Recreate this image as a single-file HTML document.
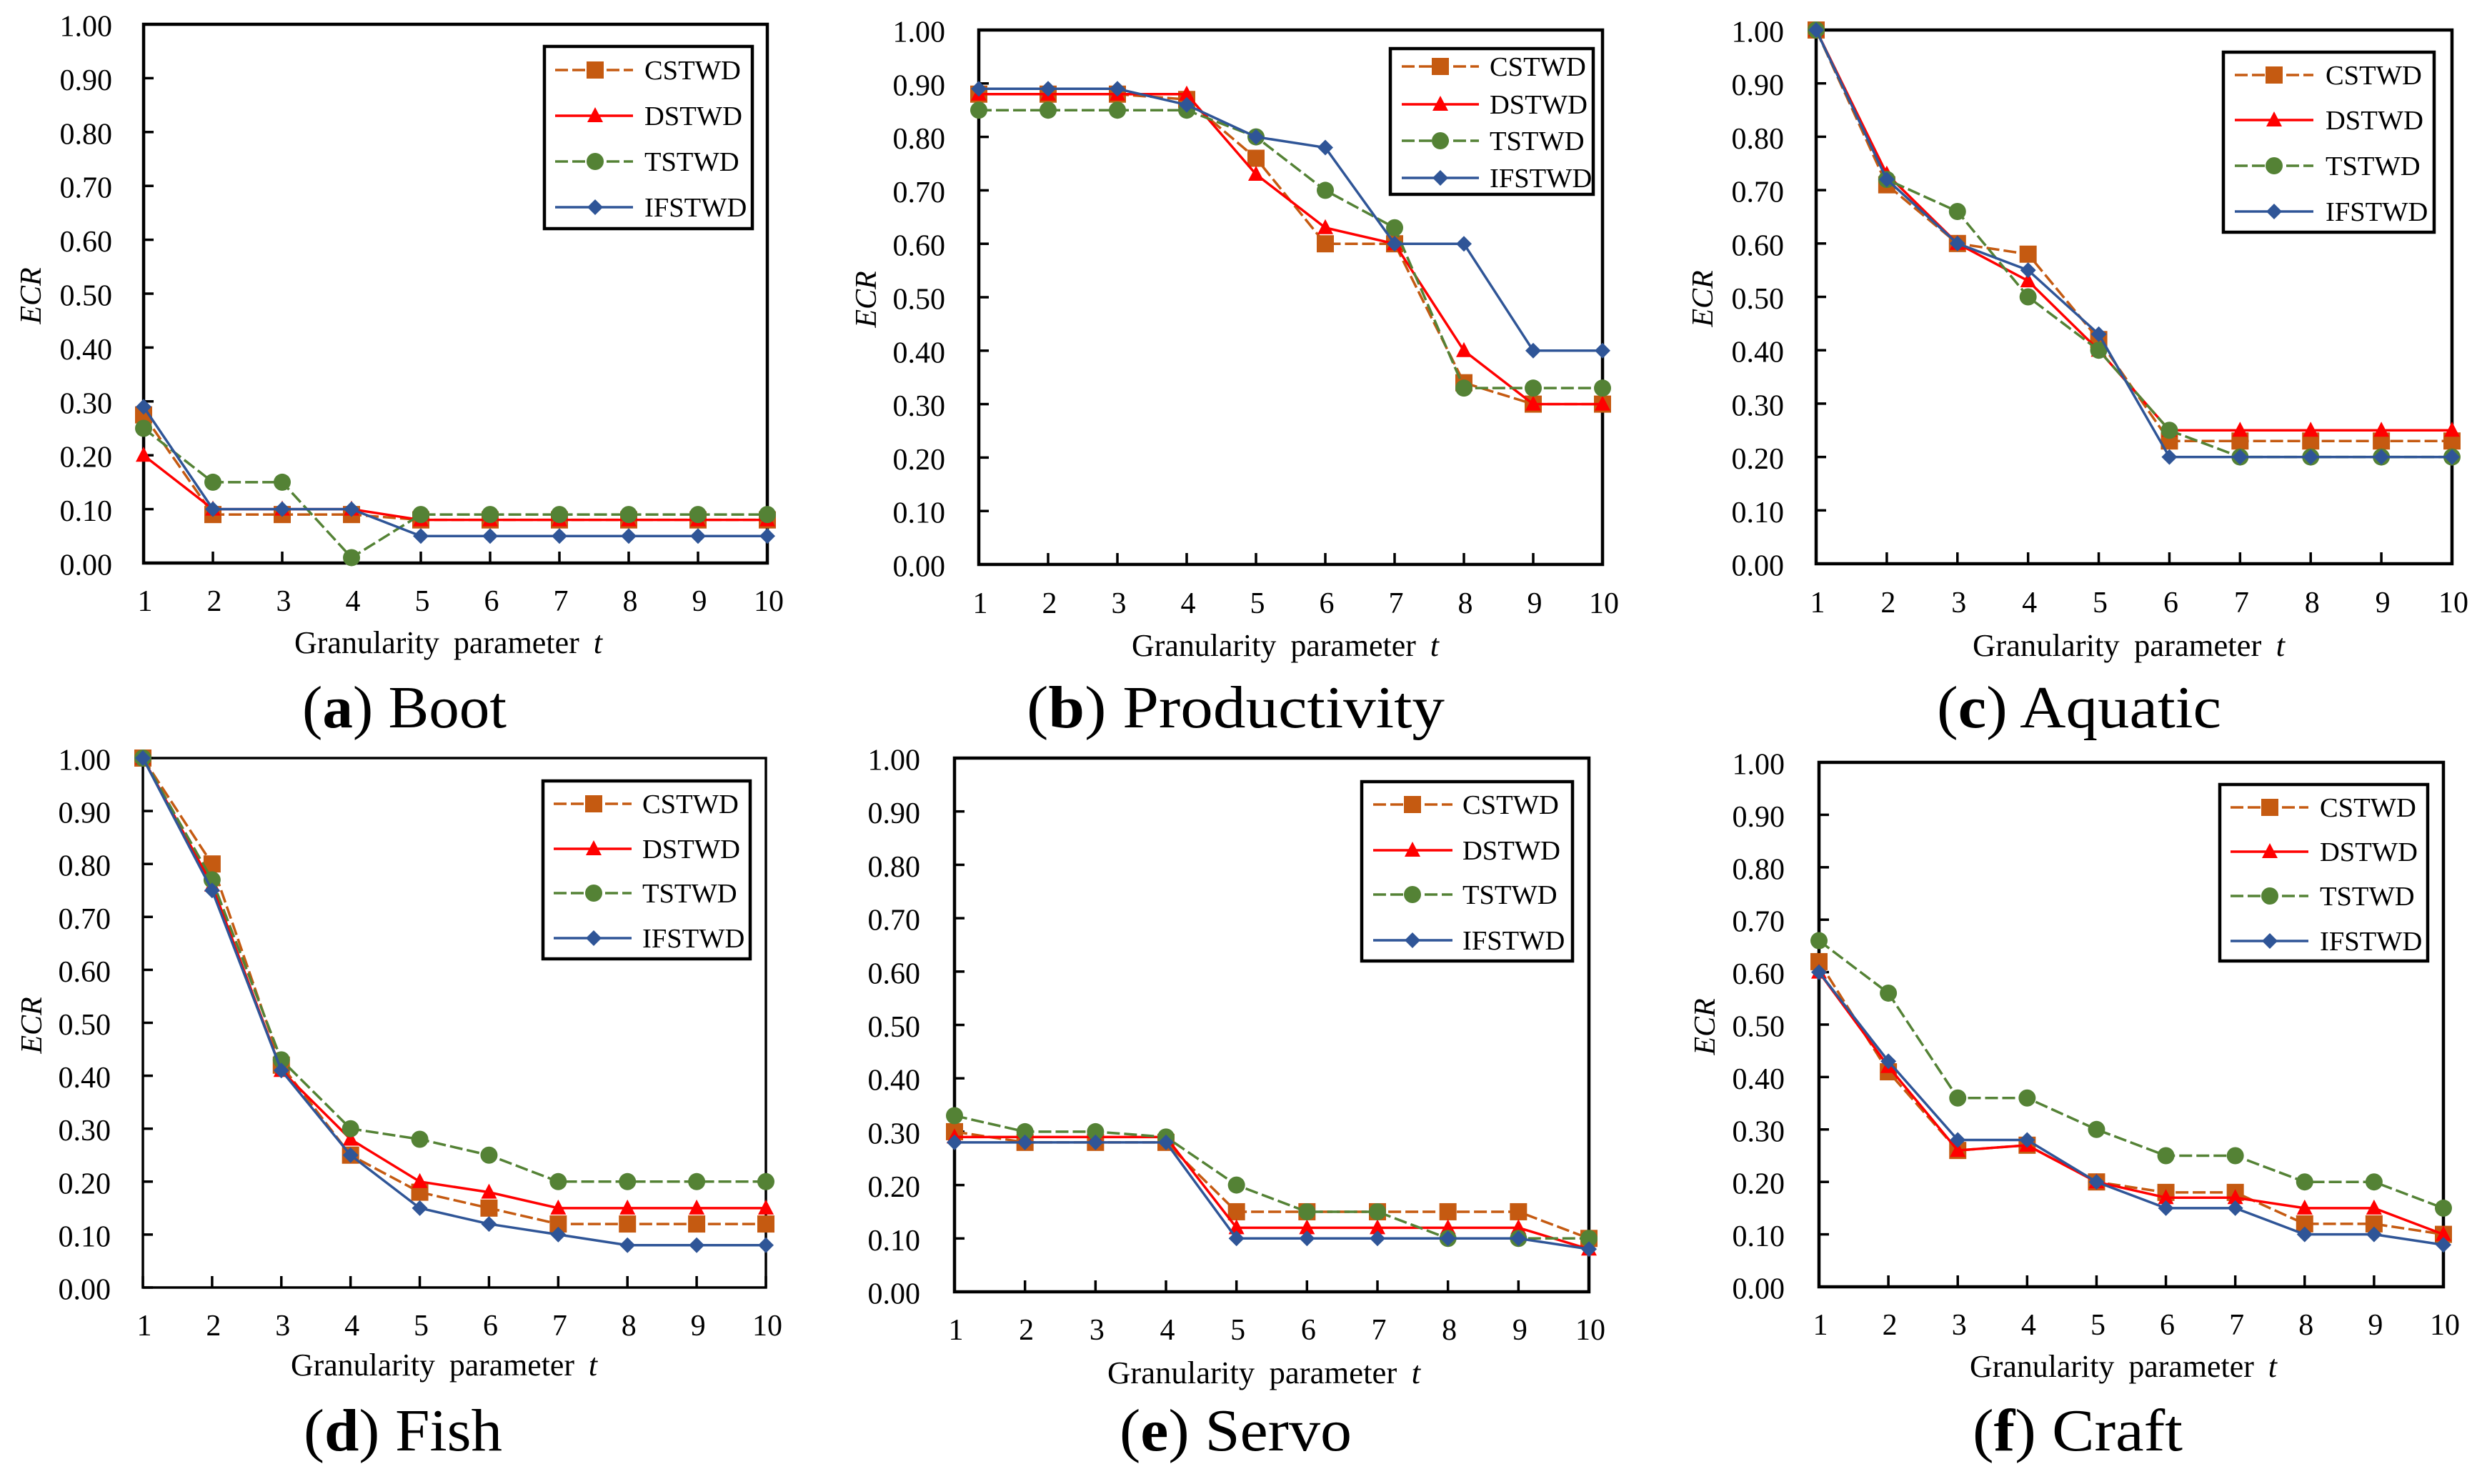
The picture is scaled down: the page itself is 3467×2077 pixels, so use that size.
<!DOCTYPE html>
<html lang="en">
<head>
<meta charset="utf-8">
<title>ECR versus granularity parameter t on six datasets</title>
<style>
html,body{margin:0;padding:0;background:#fff;}
svg{display:block;}
text{font-family:"Liberation Serif",serif;fill:#000;}
.tick{font-size:42px;}
.leg{font-size:38.5px;}
.xt{font-size:44px;word-spacing:9px;}
.yt{font-size:42px;font-style:italic;}
.cap{font-size:84px;}
.frame{fill:none;stroke:#000;stroke-width:4.5px;}
.lbox{fill:#fff;stroke:#000;stroke-width:4.5px;}
</style>
</head>
<body>
<svg id="figure" xmlns="http://www.w3.org/2000/svg" width="3467" height="2077" viewBox="0 0 3467 2077">
<rect x="0" y="0" width="3467" height="2077" fill="#fff"/>

<g id="panel-a">
<rect class="frame" x="201" y="34" width="873" height="754"/>
<text class="yt" transform="translate(57,414) rotate(-90)" text-anchor="middle">ECR</text>
<text class="xt" x="412" y="914" textLength="431" lengthAdjust="spacingAndGlyphs">Granularity parameter <tspan font-style="italic">t</tspan></text>
<text class="cap" x="423" y="1018" textLength="286" lengthAdjust="spacingAndGlyphs">(<tspan font-weight="bold">a</tspan>) Boot</text>
</g>

<g id="panel-b">
<rect class="frame" x="1370" y="42" width="873" height="748"/>
<text class="yt" transform="translate(1226,419) rotate(-90)" text-anchor="middle">ECR</text>
<text class="xt" x="1584" y="918" textLength="430" lengthAdjust="spacingAndGlyphs">Granularity parameter <tspan font-style="italic">t</tspan></text>
<text class="cap" x="1437" y="1018" textLength="585" lengthAdjust="spacingAndGlyphs">(<tspan font-weight="bold">b</tspan>) Productivity</text>
</g>

<g id="panel-c">
<rect class="frame" x="2542" y="42" width="890" height="747"/>
<text class="yt" transform="translate(2397,418) rotate(-90)" text-anchor="middle">ECR</text>
<text class="xt" x="2761" y="918" textLength="437" lengthAdjust="spacingAndGlyphs">Granularity parameter <tspan font-style="italic">t</tspan></text>
<text class="cap" x="2711" y="1018" textLength="398" lengthAdjust="spacingAndGlyphs">(<tspan font-weight="bold">c</tspan>) Aquatic</text>
</g>

<g id="panel-d">
<rect class="frame" style="stroke-width:3.5px" x="200" y="1061" width="872" height="741"/>
<text class="yt" transform="translate(58,1435) rotate(-90)" text-anchor="middle">ECR</text>
<text class="xt" x="407" y="1925" textLength="429" lengthAdjust="spacingAndGlyphs">Granularity parameter <tspan font-style="italic">t</tspan></text>
<text class="cap" x="425" y="2030" textLength="278" lengthAdjust="spacingAndGlyphs">(<tspan font-weight="bold">d</tspan>) Fish</text>
</g>

<g id="panel-e">
<rect class="frame" x="1336" y="1061" width="888" height="747"/>
<text class="xt" x="1550" y="1936" textLength="438" lengthAdjust="spacingAndGlyphs">Granularity parameter <tspan font-style="italic">t</tspan></text>
<text class="cap" x="1567" y="2030" textLength="325" lengthAdjust="spacingAndGlyphs">(<tspan font-weight="bold">e</tspan>) Servo</text>
</g>

<g id="panel-f">
<rect class="frame" x="2546" y="1067" width="874" height="734"/>
<text class="yt" transform="translate(2400,1437) rotate(-90)" text-anchor="middle">ECR</text>
<text class="xt" x="2757" y="1927" textLength="430" lengthAdjust="spacingAndGlyphs">Granularity parameter <tspan font-style="italic">t</tspan></text>
<text class="cap" x="2761" y="2030" textLength="294" lengthAdjust="spacingAndGlyphs">(<tspan font-weight="bold">f</tspan>) Craft</text>
</g>
</svg>

<script>
// ---- chart data ----
const categories = ['1','2','3','4','5','6','7','8','9','10'];
const yTickValues = [0,0.1,0.2,0.3,0.4,0.5,0.6,0.7,0.8,0.9,1];
const seriesNames = ['CSTWD','DSTWD','TSTWD','IFSTWD'];

const bootCSTWD = [0.275,0.09,0.09,0.09,0.08,0.08,0.08,0.08,0.08,0.08];
const bootDSTWD = [0.20,0.10,0.10,0.10,0.08,0.08,0.08,0.08,0.08,0.08];
const bootTSTWD = [0.25,0.15,0.15,0.01,0.09,0.09,0.09,0.09,0.09,0.09];
const bootIFSTWD = [0.29,0.10,0.10,0.10,0.05,0.05,0.05,0.05,0.05,0.05];

const productivityCSTWD = [0.88,0.88,0.88,0.87,0.76,0.60,0.60,0.34,0.30,0.30];
const productivityDSTWD = [0.88,0.88,0.88,0.88,0.73,0.63,0.60,0.40,0.30,0.30];
const productivityTSTWD = [0.85,0.85,0.85,0.85,0.80,0.70,0.63,0.33,0.33,0.33];
const productivityIFSTWD = [0.89,0.89,0.89,0.86,0.80,0.78,0.60,0.60,0.40,0.40];

const aquaticCSTWD = [1.00,0.71,0.60,0.58,0.42,0.23,0.23,0.23,0.23,0.23];
const aquaticDSTWD = [1.00,0.73,0.60,0.53,0.40,0.25,0.25,0.25,0.25,0.25];
const aquaticTSTWD = [1.00,0.72,0.66,0.50,0.40,0.25,0.20,0.20,0.20,0.20];
const aquaticIFSTWD = [1.00,0.72,0.60,0.55,0.43,0.20,0.20,0.20,0.20,0.20];

const fishCSTWD = [1.00,0.80,0.42,0.25,0.18,0.15,0.12,0.12,0.12,0.12];
const fishDSTWD = [1.00,0.76,0.41,0.28,0.20,0.18,0.15,0.15,0.15,0.15];
const fishTSTWD = [1.00,0.77,0.43,0.30,0.28,0.25,0.20,0.20,0.20,0.20];
const fishIFSTWD = [1.00,0.75,0.41,0.25,0.15,0.12,0.10,0.08,0.08,0.08];

const servoCSTWD = [0.30,0.28,0.28,0.28,0.15,0.15,0.15,0.15,0.15,0.10];
const servoDSTWD = [0.29,0.29,0.29,0.29,0.12,0.12,0.12,0.12,0.12,0.08];
const servoTSTWD = [0.33,0.30,0.30,0.29,0.20,0.15,0.15,0.10,0.10,0.10];
const servoIFSTWD = [0.28,0.28,0.28,0.28,0.10,0.10,0.10,0.10,0.10,0.08];

const craftCSTWD = [0.62,0.41,0.26,0.27,0.20,0.18,0.18,0.12,0.12,0.10];
const craftDSTWD = [0.60,0.42,0.26,0.27,0.20,0.17,0.17,0.15,0.15,0.10];
const craftTSTWD = [0.66,0.56,0.36,0.36,0.30,0.25,0.25,0.20,0.20,0.15];
const craftIFSTWD = [0.60,0.43,0.28,0.28,0.20,0.15,0.15,0.10,0.10,0.08];

// ---- panel wiring and layout ----
const panels = [
  {id:'panel-a',key:'boot',series:[bootCSTWD,bootDSTWD,bootTSTWD,bootIFSTWD],
   box:{l:201,r:1074,t:34,b:788,labelR:157,labelB:855},
   leg:{l:762,r:1053,t:65,b:320,x1:777,x2:886,mx:833,tx:902,rows:[98,162,226,290]}},
  {id:'panel-b',key:'productivity',series:[productivityCSTWD,productivityDSTWD,productivityTSTWD,productivityIFSTWD],
   box:{l:1370,r:2243,t:42,b:790,labelR:1323,labelB:858},
   leg:{l:1946,r:2230,t:68,b:272,x1:1962,x2:2070,mx:2016,tx:2085,rows:[93,146,197,249]}},
  {id:'panel-c',key:'aquatic',series:[aquaticCSTWD,aquaticDSTWD,aquaticTSTWD,aquaticIFSTWD],
   box:{l:2542,r:3432,t:42,b:789,labelR:2497,labelB:857},
   leg:{l:3112,r:3407,t:73,b:325,x1:3128,x2:3238,mx:3183,tx:3255,rows:[105,168,232,296]}},
  {id:'panel-d',key:'fish',series:[fishCSTWD,fishDSTWD,fishTSTWD,fishIFSTWD],
   box:{l:200,r:1072,t:1061,b:1802,labelR:155,labelB:1869},
   leg:{l:760,r:1050,t:1093,b:1342,x1:775,x2:884,mx:831,tx:899,rows:[1125,1188,1250,1313]}},
  {id:'panel-e',key:'servo',series:[servoCSTWD,servoDSTWD,servoTSTWD,servoIFSTWD],
   box:{l:1336,r:2224,t:1061,b:1808,labelR:1288,labelB:1875},
   leg:{l:1906,r:2201,t:1094,b:1345,x1:1922,x2:2033,mx:1977,tx:2047,rows:[1126,1190,1252,1316]}},
  {id:'panel-f',key:'craft',series:[craftCSTWD,craftDSTWD,craftTSTWD,craftIFSTWD],
   box:{l:2546,r:3420,t:1067,b:1801,labelR:2498,labelB:1868},
   leg:{l:3107,r:3398,t:1098,b:1345,x1:3122,x2:3231,mx:3177,tx:3247,rows:[1130,1192,1254,1317]}}
];

const seriesStyles = [
  {color:'#C55A11',dash:'18 6',marker:'square'},
  {color:'#FF0000',dash:'',marker:'triangle'},
  {color:'#548235',dash:'18 6',marker:'circle'},
  {color:'#2F5597',dash:'',marker:'diamond'}
];

const NS = 'http://www.w3.org/2000/svg';
function make(tag, attrs){
  const el = document.createElementNS(NS, tag);
  for (const k in attrs) el.setAttribute(k, attrs[k]);
  return el;
}

function drawMarker(parent, kind, cx, cy, color){
  let el;
  if (kind === 'square') {
    el = make('rect', {x:cx-12, y:cy-12, width:24, height:24, fill:color});
  } else if (kind === 'triangle') {
    el = make('polygon', {points:(cx)+','+(cy-12)+' '+(cx+11)+','+(cy+9)+' '+(cx-11)+','+(cy+9), fill:color});
  } else if (kind === 'circle') {
    el = make('circle', {cx:cx, cy:cy, r:12, fill:color});
  } else {
    el = make('polygon', {points:(cx)+','+(cy-11)+' '+(cx+11)+','+(cy)+' '+(cx)+','+(cy+11)+' '+(cx-11)+','+(cy), fill:color});
  }
  
  
  parent.appendChild(el);
}

panels.forEach(function(panel){
  const g = document.getElementById(panel.id);
  const box = panel.box;
  const xScale = function(i){ return box.l + (box.r - box.l) * i / (categories.length - 1); };
  const yScale = function(v){ return box.b - (box.b - box.t) * v; };

  // y axis ticks and labels
  yTickValues.forEach(function(v){
    const y = yScale(v);
    const line = make('line', {x1:box.l, x2:box.l+14, y1:y, y2:y, stroke:'#000', 'stroke-width':3.5});
    
    
    g.appendChild(line);
    const label = make('text', {x:box.labelR, y:y+16.5, 'text-anchor':'end', 'class':'tick'});
    label.textContent = v.toFixed(2);
    
    
    g.appendChild(label);
  });

  // x axis ticks and labels
  categories.forEach(function(c, i){
    const x = xScale(i);
    const line = make('line', {x1:x, x2:x, y1:box.b-16, y2:box.b, stroke:'#000', 'stroke-width':3.5});
    
    
    g.appendChild(line);
    const label = make('text', {x:x+2, y:box.labelB, 'text-anchor':'middle', 'class':'tick'});
    label.textContent = c;
    
    
    g.appendChild(label);
  });

  // series lines and markers
  panel.series.forEach(function(values, s){
    const st = seriesStyles[s];
    const sg = make('g', {});
    
    
    const pts = values.map(function(v, i){ return xScale(i) + ',' + yScale(v); }).join(' ');
    const poly = make('polyline', {points:pts, fill:'none', stroke:st.color, 'stroke-width':3.5, 'stroke-linejoin':'round'});
    if (st.dash) poly.setAttribute('stroke-dasharray', st.dash);
    
    
    sg.appendChild(poly);
    values.forEach(function(v, i){ drawMarker(sg, st.marker, xScale(i), yScale(v), st.color); });
    g.appendChild(sg);
  });

  // legend
  const leg = panel.leg;
  const lg = make('g', {});
  
  
  const lbox = make('rect', {x:leg.l, y:leg.t, width:leg.r-leg.l, height:leg.b-leg.t, 'class':'lbox'});
  
  
  lg.appendChild(lbox);
  seriesNames.forEach(function(name, s){
    const st = seriesStyles[s];
    const ry = leg.rows[s];
    const ln = make('line', {x1:leg.x1, x2:leg.x2, y1:ry, y2:ry, stroke:st.color, 'stroke-width':3.5});
    if (st.dash) ln.setAttribute('stroke-dasharray', st.dash);
    
    
    lg.appendChild(ln);
    drawMarker(lg, st.marker, leg.mx, ry, st.color);
    const t = make('text', {x:leg.tx, y:ry+13, 'class':'leg'});
    t.textContent = name;
    
    
    lg.appendChild(t);
  });
  g.appendChild(lg);
});
</script>
</body>
</html>
